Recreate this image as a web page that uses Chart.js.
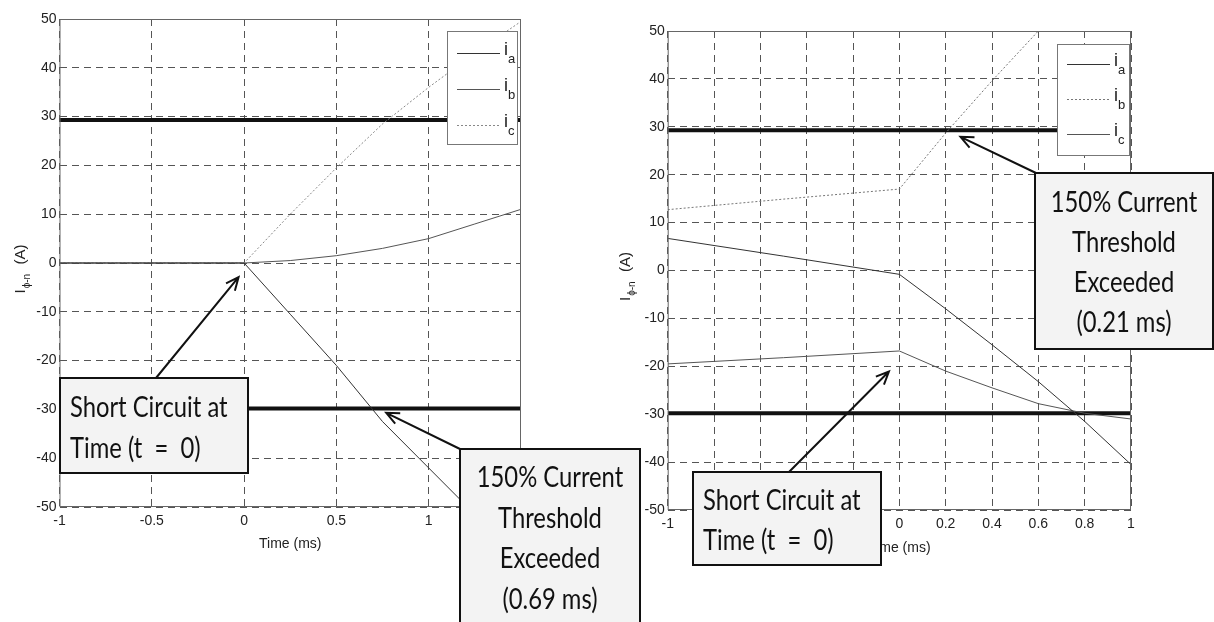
<!DOCTYPE html>
<html>
<head>
<meta charset="utf-8">
<script src="https://cdn.jsdelivr.net/npm/chart.js@4.4.1/dist/chart.umd.min.js"></script>
<style>
  html, body { margin: 0; padding: 0; background: #fff; }
  #stage { position: relative; width: 1214px; height: 622px; overflow: hidden; }
  #stage canvas { position: absolute; left: 0; top: 0; }
</style>
</head>
<body>
<div id="stage">
  <canvas id="leftChart" width="1214" height="622"></canvas>
  <canvas id="rightChart" width="1214" height="622"></canvas>
</div>
<script>
// phase currents around the fault (time in ms, current in A)
const leftTime = [-1, -0.5, 0, 0.25, 0.5, 0.75, 1, 1.25, 1.5];
const leftIa = [0, 0, 0, -10.5, -21, -32.5, -42, -51.5, -60];
const leftIb = [0, 0, 0, 0.5, 1.5, 3, 5, 8, 11];
const leftIc = [0, 0, 0, 10, 19.5, 28.5, 36, 43, 49.5];

const rightTime = [-1, -0.5, 0, 0.2, 0.4, 0.6, 0.8, 1];
const rightIa = [6.7, 3, -0.8, -8, -15.5, -23.2, -31.5, -40.5];
const rightIb = [12.7, 14.9, 17, 28.7, 39.6, 50, 60, 70];
const rightIc = [-19.5, -18.2, -16.8, -21, -24.5, -27.8, -29.8, -31];

// 150% trip levels
const thresholds = [29.3, -29.8];

const leftXRange = [-1, 1.5];
const rightXRange = [-1, 1];
const leftXTicks = [-1, -0.5, 0, 0.5, 1];
const rightXTicks = [-1, -0.8, -0.6, -0.4, -0.2, 0, 0.2, 0.4, 0.6, 0.8, 1];
const yTicks = [-50, -40, -30, -20, -10, 0, 10, 20, 30, 40, 50];
const phaseNames = ['a', 'b', 'c'];

const AXIS_FAMILY = "'Liberation Sans', Arial, sans-serif";
const NOTE_FONT = "29px Lato, 'Open Sans', sans-serif";
const NOTE_SQUEEZE = 0.82;

function pts(xs, ys) {
  return xs.map((x, i) => ({ x: x, y: ys[i] }));
}

function arrow(ctx, x1, y1, x2, y2) {
  const ang = Math.atan2(y2 - y1, x2 - x1);
  const len = 14, spread = 0.42;
  ctx.beginPath();
  ctx.moveTo(x1, y1);
  ctx.lineTo(x2, y2);
  ctx.moveTo(x2 - len * Math.cos(ang - spread), y2 - len * Math.sin(ang - spread));
  ctx.lineTo(x2, y2);
  ctx.lineTo(x2 - len * Math.cos(ang + spread), y2 - len * Math.sin(ang + spread));
  ctx.stroke();
}

const overlay = {
  id: 'overlay',
  afterDraw(chart, args, opts) {
    const ctx = chart.ctx;
    const a = chart.chartArea;
    const xs = chart.scales.x, ys = chart.scales.y;
    ctx.save();

    // plot frame
    ctx.strokeStyle = '#666';
    ctx.lineWidth = 1;
    ctx.setLineDash([]);
    ctx.strokeRect(a.left + 0.5, a.top + 0.5, a.right - a.left - 1, a.bottom - a.top - 1);

    ctx.fillStyle = '#222';
    ctx.textBaseline = 'middle';

    // x title
    ctx.font = '14px ' + AXIS_FAMILY;
    ctx.textAlign = 'center';
    ctx.fillText('Time (ms)', (a.left + a.right) / 2, opts.xTitleY);

    // y title, rotated, with subscript
    ctx.save();
    ctx.translate(opts.yTitleX, (a.top + a.bottom) / 2 + 6);
    ctx.rotate(-Math.PI / 2);
    ctx.textAlign = 'left';
    ctx.font = '15px ' + AXIS_FAMILY;
    const wI = ctx.measureText('I').width;
    ctx.font = '10px ' + AXIS_FAMILY;
    const wS = ctx.measureText('\u03d5-n').width;
    ctx.font = '15px ' + AXIS_FAMILY;
    const wA = ctx.measureText('  (A)').width;
    let tx = -(wI + wS + wA + 2) / 2;
    ctx.fillText('I', tx, 0);
    tx += wI + 1;
    ctx.font = '10px ' + AXIS_FAMILY;
    ctx.fillText('\u03d5-n', tx, 6);
    tx += wS + 1;
    ctx.font = '15px ' + AXIS_FAMILY;
    ctx.fillText('  (A)', tx, 0);
    ctx.restore();

    // legend
    const L = opts.legend;
    ctx.fillStyle = '#fff';
    ctx.fillRect(L.x, L.y, L.w, L.h);
    ctx.strokeStyle = '#777';
    ctx.lineWidth = 1;
    ctx.strokeRect(L.x + 0.5, L.y + 0.5, L.w, L.h);
    phaseNames.forEach((name, i) => {
      const ds = chart.data.datasets[i];
      const ry = L.y + L.rowTop + i * L.rowGap;
      ctx.strokeStyle = ds.borderColor;
      ctx.lineWidth = 1;
      ctx.setLineDash(ds.borderDash || []);
      ctx.beginPath();
      ctx.moveTo(L.x + 10, ry + 0.5);
      ctx.lineTo(L.x + 53, ry + 0.5);
      ctx.stroke();
      ctx.setLineDash([]);
      ctx.fillStyle = '#222';
      ctx.textAlign = 'left';
      ctx.font = '18px ' + AXIS_FAMILY;
      ctx.fillText('i', L.x + 57, ry - 3);
      const wi = ctx.measureText('i').width;
      ctx.font = '13px ' + AXIS_FAMILY;
      ctx.fillText(name, L.x + 57 + wi, ry + 6);
    });

    // callout boxes with arrows
    opts.notes.forEach(n => {
      ctx.strokeStyle = '#111';
      ctx.lineWidth = 2;
      ctx.setLineDash([]);
      arrow(ctx, n.from[0], n.from[1],
        xs.getPixelForValue(n.target.x), ys.getPixelForValue(n.target.y));
      ctx.fillStyle = '#f3f3f3';
      ctx.fillRect(n.box[0], n.box[1], n.box[2], n.box[3]);
      ctx.strokeRect(n.box[0], n.box[1], n.box[2], n.box[3]);
      ctx.fillStyle = '#111';
      ctx.font = NOTE_FONT;
      ctx.textAlign = n.align;
      const bx = n.align === 'center' ? n.box[0] + n.box[2] / 2 : n.box[0] + 10;
      n.lines.forEach((line, i) => {
        ctx.save();
        ctx.translate(bx, n.firstY + i * n.lineGap);
        ctx.scale(NOTE_SQUEEZE, 1);
        ctx.fillText(line, 0, 0);
        ctx.restore();
      });
    });

    ctx.restore();
  }
};

function makeChart(id, cfg) {
  const styles = cfg.styles;
  const datasets = cfg.series.map((ys, i) => ({
    label: 'i' + phaseNames[i],
    data: pts(cfg.time, ys),
    borderColor: styles[i].color,
    borderDash: styles[i].dash,
    borderWidth: 1,
    pointRadius: 0,
    tension: 0
  }));
  thresholds.forEach(level => {
    datasets.push({
      label: 'threshold',
      data: pts(cfg.xRange, [level, level]),
      borderColor: '#111',
      borderWidth: 4,
      pointRadius: 0
    });
  });

  const tickFont = { family: AXIS_FAMILY, size: 14 };
  return new Chart(document.getElementById(id), {
    type: 'line',
    data: { datasets: datasets },
    options: {
      responsive: false,
      animation: false,
      events: [],
      layout: { padding: cfg.padding },
      plugins: {
        legend: { display: false },
        tooltip: { enabled: false },
        overlay: cfg.overlay
      },
      scales: {
        x: {
          type: 'linear',
          min: cfg.xRange[0],
          max: cfg.xRange[1],
          afterBuildTicks: s => { s.ticks = cfg.xTicks.map(v => ({ value: v })); },
          afterFit: s => { s.height = cfg.xAxisHeight; },
          ticks: {
            font: tickFont, color: '#222', padding: 6, maxRotation: 0, autoSkip: false,
            callback: v => String(Math.round(v * 10) / 10)
          },
          grid: { color: '#555', lineWidth: 1, drawTicks: false },
          border: { display: false, dash: [7, 5] }
        },
        y: {
          min: -50,
          max: 50,
          afterBuildTicks: s => { s.ticks = yTicks.map(v => ({ value: v })); },
          afterFit: s => { s.width = cfg.yAxisWidth; },
          ticks: { font: tickFont, color: '#222', padding: 3, autoSkip: false },
          grid: { color: '#555', lineWidth: 1, drawTicks: false },
          border: { display: false, dash: [7, 5] }
        }
      }
    },
    plugins: [overlay]
  });
}

makeChart('leftChart', {
  time: leftTime,
  series: [leftIa, leftIb, leftIc],
  xRange: leftXRange,
  xTicks: leftXTicks,
  styles: [
    { color: '#333', dash: [] },
    { color: '#555', dash: [] },
    { color: '#888', dash: [2, 2] }
  ],
  padding: { left: 0, top: 19, right: 693, bottom: 0 },
  yAxisWidth: 59.5,
  xAxisHeight: 115,
  overlay: {
    xTitleY: 544,
    yTitleX: 21,
    legend: { x: 447, y: 31, w: 70, h: 113, rowTop: 22, rowGap: 36 },
    notes: [
      {
        box: [60, 378, 188, 95], align: 'left', firstY: 408, lineGap: 41,
        lines: ['Short Circuit at', 'Time (t  =  0)'],
        from: [156, 378], target: { x: -0.03, y: -2.9 }
      },
      {
        box: [460, 449, 180, 190], align: 'center', firstY: 478, lineGap: 40.5,
        lines: ['150% Current', 'Threshold', 'Exceeded', '(0.69 ms)'],
        from: [460, 449], target: { x: 0.77, y: -30.7 }
      }
    ]
  }
});

makeChart('rightChart', {
  time: rightTime,
  series: [rightIa, rightIb, rightIc],
  xRange: rightXRange,
  xTicks: rightXTicks,
  styles: [
    { color: '#333', dash: [] },
    { color: '#777', dash: [2, 2] },
    { color: '#555', dash: [] }
  ],
  padding: { left: 590, top: 31, right: 83, bottom: 0 },
  yAxisWidth: 77.7,
  xAxisHeight: 112,
  overlay: {
    xTitleY: 548,
    yTitleX: 626,
    legend: { x: 1057, y: 44, w: 72, h: 111, rowTop: 20, rowGap: 35 },
    notes: [
      {
        box: [1035, 173, 178, 176], align: 'center', firstY: 203, lineGap: 40,
        lines: ['150% Current', 'Threshold', 'Exceeded', '(0.21 ms)'],
        from: [1036, 173], target: { x: 0.264, y: 27.9 }
      },
      {
        box: [693, 472, 188, 93], align: 'left', firstY: 501, lineGap: 40,
        lines: ['Short Circuit at', 'Time (t  =  0)'],
        from: [789, 472], target: { x: -0.045, y: -21.1 }
      }
    ]
  }
});
</script>
</body>
</html>
